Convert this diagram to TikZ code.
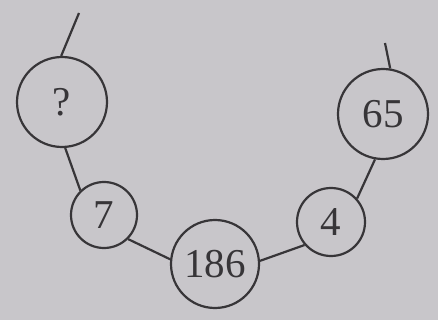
\documentclass[tikz,border=0pt]{standalone}
\usepackage{fontspec}
\setmainfont{Liberation Serif}
\definecolor{paper}{RGB}{200,198,202}
\definecolor{ink}{RGB}{55,53,56}
\begin{document}
\begin{tikzpicture}[x=1pt,y=-1pt,
  ball/.style={circle,draw=ink,line width=2.2pt,inner sep=0pt,text=ink,
    font=\fontsize{41}{41}\selectfont},
  edge/.style={draw=ink,line width=2.2pt}]
\fill[paper] (0,0) rectangle (438,320);
\useasboundingbox (0,0) rectangle (438,320);
% tree nodes
\node[ball,minimum size=90pt] (q)  at (62,102)  {?};
\node[ball,minimum size=66pt] (a7) at (104,215) {7};
\node[ball,minimum size=88pt] (a186) at (215,264) {186};
\node[ball,minimum size=68pt] (a4) at (331,222) {4};
\node[ball,minimum size=90pt] (a65) at (383,114) {65};
% loose edge ends at the top
\coordinate (qt) at (79,13);
\coordinate (tt) at (385,43);
% edges
\draw[edge] (q.91) -- (qt);
\draw[edge] (a65.81) -- (tt);
\draw[edge] (q.-86) -- (a7.134);
\draw[edge] (a7.-45) -- (a186.174);
\draw[edge] (a186.4) -- (a4.-139);
\draw[edge] (a4.42) -- (a65.-100);
\end{tikzpicture}
\end{document}
